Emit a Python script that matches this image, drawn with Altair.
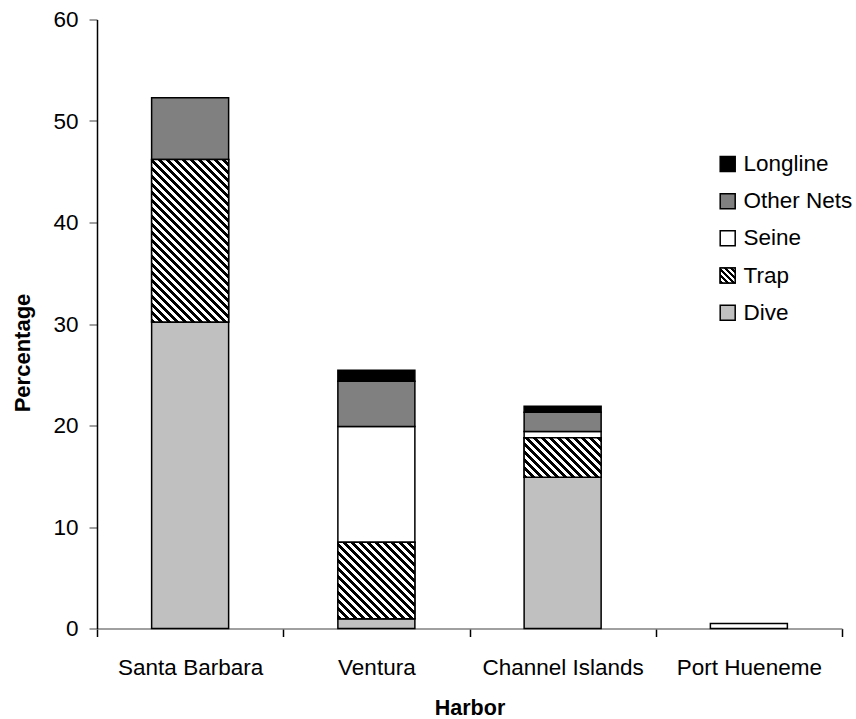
import altair as alt
import pandas as pd

# ---------------- data ----------------
harbors = ["Santa Barbara", "Ventura", "Channel Islands", "Port Hueneme"]
gears_bottom_up = ["Dive", "Trap", "Seine", "Other Nets", "Longline"]
dive = [30.2, 0.95, 14.9, 0.0]
trap = [16.0, 7.55, 3.9, 0.0]
seine = [0.0, 11.4, 0.6, 0.5]
other_nets = [6.1, 4.45, 1.9, 0.0]
longline = [0.0, 1.1, 0.6, 0.0]

legend_order = ["Longline", "Other Nets", "Seine", "Trap", "Dive"]
legend_colors = ["#000000", "#808080", "#FFFFFF", "#FFFFFF", "#C0C0C0"]
y_ticks = [0, 10, 20, 30, 40, 50, 60]

series = {"Dive": dive, "Trap": trap, "Seine": seine,
          "Other Nets": other_nets, "Longline": longline}

rows = []
for i, h in enumerate(harbors):
    acc = 0.0
    for g in gears_bottom_up:
        v = series[g][i]
        if v > 0:
            rows.append({"harbor": h, "gear": g, "value": v,
                         "start": acc, "end": acc + v})
        acc += v
df = pd.DataFrame(rows)
legend_df = pd.DataFrame({"label": legend_order})

# ---------------- layout ----------------
W, H = 745, 609
YMAX = 60
PPU = H / YMAX
BAR = 77
FONT = "Liberation Sans"
SYM = 15


def hatch(w, h, period=8.0):
    step = period / (w + h)
    stops = []
    t = 0.0
    while t < 1.0:
        tm = min(t + step / 2, 1.0)
        te = min(t + step, 1.0)
        stops += [(t, "#000000"), (tm, "#000000"), (tm, "#FFFFFF"), (te, "#FFFFFF")]
        t += step
    a = w * (w + h) / (w * w + h * h)
    return {"gradient": "linear", "x1": 0, "y1": 1, "x2": a, "y2": 1 - a * h / w,
            "stops": [{"offset": round(o, 5), "color": c} for o, c in stops]}


X = alt.X("harbor:N", sort=harbors,
          scale=alt.Scale(paddingInner=0, paddingOuter=0),
          axis=alt.Axis(title="Harbor", labelAngle=0, tickBand="extent",
                        tickSize=8, tickWidth=1.5, tickColor="#000000",
                        domainColor="#808080", domainWidth=1.5,
                        labelFontSize=22.5, labelPadding=19.5, labelColor="#000000",
                        titleFontSize=21.5, titleFontWeight="bold",
                        titlePadding=19, titleColor="#000000"))
Y = alt.Y("start:Q",
          scale=alt.Scale(domain=[0, YMAX], nice=False),
          axis=alt.Axis(title="Percentage", values=y_ticks, grid=False,
                        tickSize=8, tickWidth=1.5, tickColor="#808080",
                        domainColor="#000000", domainWidth=1.5,
                        labelFontSize=22.5, labelPadding=11, labelColor="#000000",
                        titleFontSize=22, titleFontWeight="bold",
                        titleX=-62.5, titleY=333, titleColor="#000000"))

base = alt.Chart(df).encode(x=X, y=Y, y2="end:Q")

bars = base.mark_bar(size=BAR, stroke="#000000", strokeWidth=1.5).encode(
    fill=alt.Fill("gear:N",
                  scale=alt.Scale(domain=legend_order, range=legend_colors),
                  legend=None)
)

layers = [bars]
for i, h in enumerate(harbors):
    if trap[i] > 0:
        layers.append(
            base.transform_filter(
                (alt.datum.gear == "Trap") & (alt.datum.harbor == h)
            ).mark_bar(size=BAR, stroke="#000000", strokeWidth=1.5,
                       fill=hatch(BAR, trap[i] * PPU))
        )

# ---------------- legend (manual) ----------------
LY = alt.Y("label:N", sort=legend_order, axis=None,
           scale=alt.Scale(range=[144.5, 293.2], padding=0))
leg_base = alt.Chart(legend_df).encode(y=LY)
leg_sym = leg_base.mark_square(size=SYM * SYM, stroke="#000000", strokeWidth=1.5,
                               opacity=1).encode(
    x=alt.value(727.7 - 97),
    fill=alt.Fill("label:N", scale=alt.Scale(domain=legend_order, range=legend_colors),
                  legend=None),
)
leg_trap = leg_base.transform_filter(alt.datum.label == "Trap").mark_square(
    size=SYM * SYM, stroke="#000000", strokeWidth=1.5, opacity=1,
    fill=hatch(SYM, SYM, 6.0)
).encode(x=alt.value(727.7 - 97))
leg_text = leg_base.mark_text(align="left", baseline="middle", fontSize=22.5,
                              font=FONT, color="#000000").encode(
    x=alt.value(743.5 - 97), text="label:N")

legend_layer = alt.layer(leg_sym, leg_trap, leg_text)

chart = alt.layer(alt.layer(*layers), legend_layer).resolve_scale(
    y="independent"
).properties(
    width=W, height=H,
    autosize=alt.AutoSizeParams(type="none"),
    padding={"left": 97, "top": 19.5, "right": 14, "bottom": 90.5},
    background="#FFFFFF",
).configure_view(stroke=None).configure_axis(
    labelFont=FONT, titleFont=FONT
)

chart.save("out.html", embed_options={"renderer": "svg", "actions": False})
